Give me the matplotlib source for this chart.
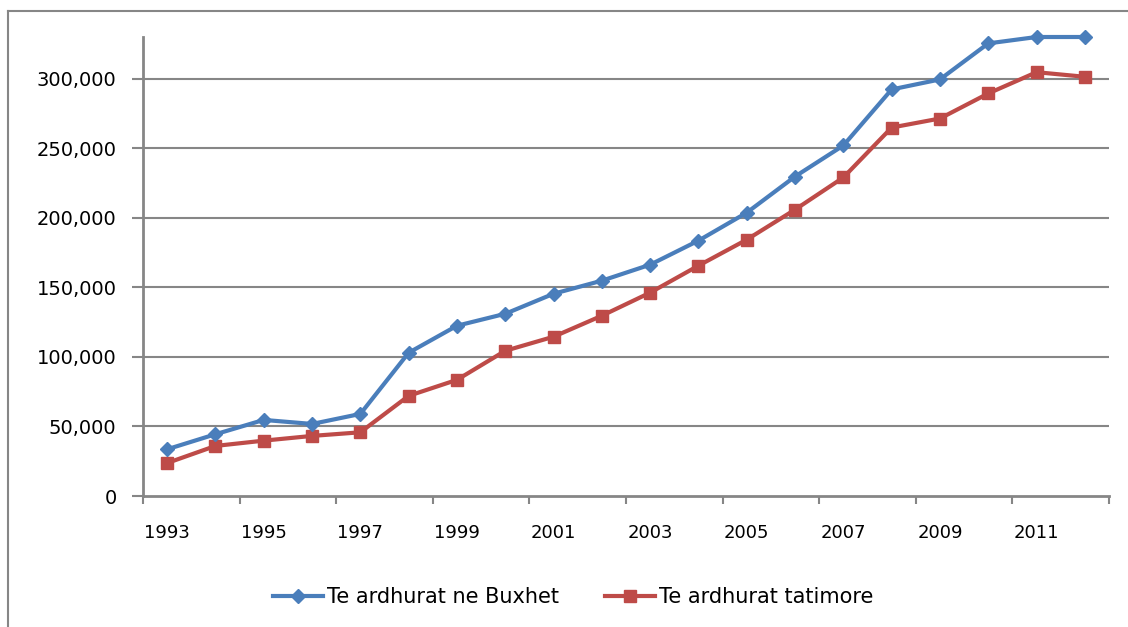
import matplotlib
matplotlib.use("Agg")
import matplotlib.pyplot as plt
from matplotlib.lines import Line2D
from matplotlib.ticker import FuncFormatter, FixedLocator

years = list(range(1993, 2013))
buxhet = [33600, 44400, 54700, 51800, 59000, 103000, 122400, 131000, 145400, 154800,
          166300, 183600, 203700, 229700, 252000, 292300, 299500, 325400, 330000, 330000]
tatimore = [23700, 36000, 39800, 43200, 45800, 72000, 83500, 104400, 114500, 129600,
            146200, 165600, 184300, 205900, 229000, 264900, 271400, 289400, 304700, 301400]
yticks = [0, 50000, 100000, 150000, 200000, 250000, 300000]

blue = "#4A7EBB"
red = "#BE4B48"
grey = "#868686"

plt.rcParams['font.family'] = ['DejaVu Sans']

fig = plt.figure(figsize=(11.28, 6.27), dpi=100)
ax = fig.add_axes([143/1128, 1-496/627, (1109-143)/1128, (496-37)/627])

x = list(range(len(years)))
ax.plot(x, buxhet, color=blue, lw=3, marker='D', ms=7, clip_on=False, zorder=4,
        label="Te ardhurat ne Buxhet")
ax.plot(x, tatimore, color=red, lw=3, marker='s', ms=8.5, clip_on=False, zorder=3,
        label="Te ardhurat tatimore")

ax.set_xlim(-0.5, len(years) - 0.5)
ax.set_ylim(0, 330000)

# tick marks at category boundaries, labels at category centres
ax.xaxis.set_major_locator(FixedLocator([i - 0.5 for i in range(0, len(years) + 1, 2)]))
ax.xaxis.set_minor_locator(FixedLocator(x[::2]))
ax.xaxis.set_major_formatter(FuncFormatter(lambda v, p: ""))
ax.xaxis.set_minor_formatter(FuncFormatter(lambda v, p: str(years[int(round(v))])))
ax.tick_params(axis='x', which='major', length=6, width=1.5, color=grey, direction='out')
ax.tick_params(axis='x', which='minor', length=0, pad=20.5, labelsize=13)

ax.set_yticks(yticks)
ax.yaxis.set_major_formatter(FuncFormatter(lambda v, p: f"{int(v):,}"))
ax.tick_params(axis='y', length=8, width=1.5, color=grey, direction='out', pad=11, labelsize=14)

for t in yticks[1:]:
    ax.axhline(t, color=grey, lw=1.5, zorder=1)

for s in ['top', 'right']:
    ax.spines[s].set_visible(False)
for s in ['left', 'bottom']:
    ax.spines[s].set_color(grey)
    ax.spines[s].set_linewidth(2)

leg = fig.legend(loc='center', bbox_to_anchor=(573.5/1128, 1-597/627), ncol=2, frameon=False,
                 fontsize=15, handlelength=2.4, handletextpad=0.2, columnspacing=2.2)

# outer chart border (left and top)
fig.add_artist(Line2D([8/1128, 8/1128], [0, 1-11/627], color=grey, lw=1.5))
fig.add_artist(Line2D([8/1128, 1], [1-11/627, 1-11/627], color=grey, lw=1.5))

fig.savefig("out.png", dpi=100)
